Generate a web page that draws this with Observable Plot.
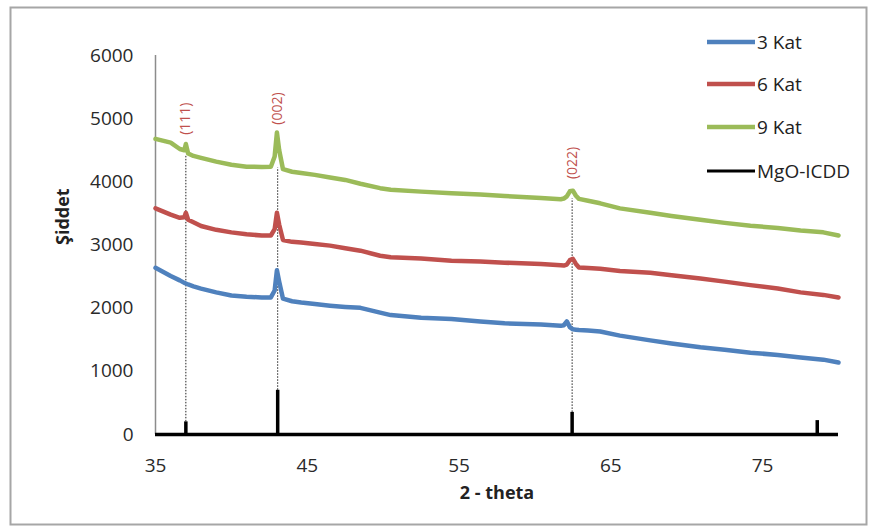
<!DOCTYPE html>
<html>
<head>
<meta charset="utf-8">
<script src="https://cdn.jsdelivr.net/npm/d3@7"></script>
<script src="https://cdn.jsdelivr.net/npm/@observablehq/plot@0.6"></script>
<style>
  html, body { margin: 0; padding: 0; background: #fff; }
  #chart { width: 870px; height: 527px; }
</style>
</head>
<body>
<div id="chart"></div>
<script>
// 2-theta sample positions (shared by the three measured patterns)
const theta = [35, 36, 36.6, 36.9, 37.0, 37.15, 37.5, 38, 39, 40, 41, 42, 42.6, 42.85, 43.0, 43.15, 43.4, 44, 44.6, 45.5, 46.5, 47.5, 48.5, 49.8, 50.5, 52.5, 54.5, 56.4, 58, 60.4, 61.7, 61.9, 62.1, 62.3, 62.5, 62.7, 62.9, 63.5, 64.3, 65.6, 67.6, 69, 70.9, 72.5, 74.2, 76, 77.5, 79, 80];

const kat3 = [2640, 2510, 2440, 2400, 2390, 2375, 2345, 2310, 2250, 2200, 2180, 2170, 2170, 2280, 2600, 2420, 2150, 2110, 2090, 2065, 2040, 2020, 2005, 1930, 1890, 1850, 1830, 1790, 1760, 1740, 1720, 1730, 1790, 1700, 1665, 1660, 1655, 1645, 1630, 1565, 1490, 1440, 1380, 1340, 1295, 1260, 1220, 1185, 1140];

const kat6 = [3580, 3480, 3430, 3440, 3510, 3400, 3360, 3300, 3240, 3200, 3170, 3150, 3150, 3250, 3510, 3320, 3080, 3050, 3040, 3015, 2990, 2950, 2910, 2830, 2805, 2785, 2750, 2740, 2720, 2700, 2680, 2675, 2690, 2760, 2780, 2700, 2645, 2635, 2625, 2590, 2560, 2520, 2470, 2420, 2365, 2310, 2250, 2210, 2170];

const kat9 = [4680, 4620, 4520, 4500, 4600, 4450, 4410, 4380, 4320, 4270, 4240, 4235, 4240, 4400, 4780, 4500, 4200, 4160, 4140, 4110, 4070, 4030, 3970, 3900, 3875, 3845, 3820, 3800, 3775, 3745, 3725, 3735, 3770, 3850, 3860, 3780, 3730, 3700, 3660, 3580, 3510, 3460, 3400, 3350, 3305, 3270, 3230, 3200, 3150];

// MgO reference (ICDD) stick pattern
const mgoTheta = [37.0, 43.05, 62.45, 78.6];
const mgoI = [200, 700, 350, 220];

// Indexed planes
const planes = ["(111)", "(002)", "(022)"];
const planeTheta = [37.0, 43.05, 62.45];
const planeLabelY = [5000, 5160, 4300];
const planeDropTop = [4420, 4220, 3730];

const seriesNames = ["3 Kat", "6 Kat", "9 Kat", "MgO-ICDD"];
const seriesColors = ["#4F81BD", "#C0504D", "#9BBB59", "#000000"];

const xTicks = [35, 45, 55, 65, 75];
const yTicks = [0, 1000, 2000, 3000, 4000, 5000, 6000];

// Build tables
const rows = [];
[kat3, kat6, kat9].forEach((vals, i) => {
  vals.forEach((v, j) => rows.push({theta: theta[j], value: v, series: seriesNames[i]}));
});
const sticks = mgoTheta.map((t, i) => ({theta: t, value: mgoI[i]}));
const planeRows = planes.map((p, i) => ({label: p, theta: planeTheta[i], y: planeLabelY[i], top: planeDropTop[i], bottom: mgoI[i]}));

const font = "'Open Sans', 'DejaVu Sans', sans-serif";

const chart = Plot.plot({
  width: 870,
  height: 527,
  marginLeft: 155,
  marginRight: 32,
  marginTop: 55,
  marginBottom: 93,
  style: {fontFamily: font, background: "#fff", overflow: "visible"},
  x: {domain: [35, 80]},
  y: {domain: [0, 6000]},
  color: {domain: seriesNames, range: seriesColors},
  marks: [
    Plot.ruleX([35], {y1: 0, y2: 6000, stroke: "#8c8c8c", strokeWidth: 1.5}),
    Plot.axisY({ticks: yTicks, tickSize: 0, tickPadding: 22, fontSize: 19, fill: "#2a2a2a", label: null, tickFormat: d => String(d)}),
    Plot.axisX({ticks: xTicks, tickSize: 0, tickPadding: 24, fontSize: 19, fill: "#2a2a2a", label: null, tickFormat: d => String(d)}),
    Plot.ruleX(planeRows, {x: "theta", y1: "bottom", y2: "top", stroke: "#222", strokeWidth: 1, strokeDasharray: "1.5,1.5"}),
    Plot.line(rows, {x: "theta", y: "value", z: "series", stroke: "series", strokeWidth: 4.5, strokeLinejoin: "round", strokeLinecap: "round", curve: "linear"}),
    Plot.ruleY([0], {x1: 35, x2: 80, stroke: "#000", strokeWidth: 3.5}),
    Plot.ruleX(sticks, {x: "theta", y1: 0, y2: "value", stroke: "#000", strokeWidth: 3.5}),
    Plot.text(planeRows, {x: "theta", y: "y", text: "label", rotate: -90, fill: "#C0504D", fontSize: 14, textAnchor: "middle"}),
    Plot.text(["Şiddet"], {frameAnchor: "left", dx: -92, rotate: -90, fontSize: 18, fontWeight: "bold", fill: "#222"}),
    Plot.text(["2 - theta"], {frameAnchor: "bottom", dy: 64, fontSize: 18, fontWeight: "bold", fill: "#222"})
  ]
});

document.getElementById("chart").appendChild(chart);

// Outer chart frame and legend
const svg = d3.select(chart);
svg.insert("rect", ":first-child")
  .attr("x", 10.5).attr("y", 7.5).attr("width", 856).attr("height", 517)
  .attr("fill", "#fff").attr("stroke", "#a6a6a6").attr("stroke-width", 2);

const legendRowY = [42, 84, 127, 171];
const lg = svg.append("g").attr("font-family", font).attr("font-size", 19).attr("text-anchor", "start");
seriesNames.forEach((name, i) => {
  lg.append("line")
    .attr("x1", 707).attr("x2", 755)
    .attr("y1", legendRowY[i]).attr("y2", legendRowY[i])
    .attr("stroke", seriesColors[i])
    .attr("stroke-width", i === 3 ? 3 : 4.5);
  lg.append("text")
    .attr("x", 757).attr("y", legendRowY[i]).attr("dy", "0.35em")
    .attr("text-anchor", "start")
    .attr("fill", "#222").text(name);
});
</script>
</body>
</html>
